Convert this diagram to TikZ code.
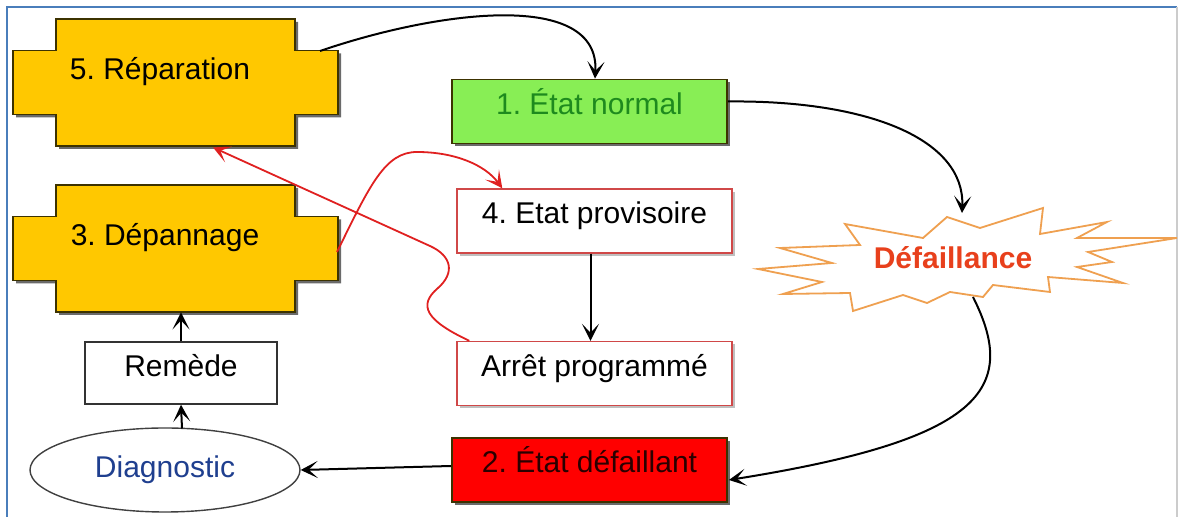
\documentclass[tikz,border=0pt]{standalone}
\usepackage{fontspec}
\setmainfont{Liberation Sans}
\usetikzlibrary{arrows.meta,calc,shapes.geometric,shadows}
\frenchspacing
\definecolor{frameblue}{HTML}{4A7EBB}
\definecolor{gold}{HTML}{FFC800}
\definecolor{golddark}{HTML}{3C3200}
\definecolor{okgreen}{HTML}{88EE55}
\definecolor{okgreentext}{HTML}{1E8A1E}
\definecolor{boxred}{HTML}{FF0000}
\definecolor{redtext}{HTML}{2A0000}
\definecolor{thinred}{HTML}{D04848}
\definecolor{arrowred}{HTML}{E02020}
\definecolor{starorange}{HTML}{EFA050}
\definecolor{startext}{HTML}{E8401C}
\definecolor{diagblue}{HTML}{1F3F8F}
\definecolor{shadowgray}{HTML}{6A6A6A}
\newcommand\mycrosspath{(-119.5,-63.5) -- (119.5,-63.5) -- (119.5,-32) -- (162.5,-32) -- (162.5,32) -- (119.5,32) -- (119.5,63.5) -- (-119.5,63.5) -- (-119.5,32) -- (-162.5,32) -- (-162.5,-32) -- (-119.5,-32) -- cycle}
\newcommand\mycrossshape[2]{%
  \fill[shadowgray,shift={(#1+3,#2+3)}] \mycrosspath;
  \filldraw[fill=gold,draw=golddark,line width=0.9pt,shift={(#1,#2)}] \mycrosspath;}
\begin{document}
\begin{tikzpicture}[x=0.5pt,y=-0.5pt,
  bodybox/.style={draw=none,inner sep=0pt,minimum width=119.5pt,minimum height=63.5pt},
  lbl/.style={font=\fontsize{15}{18}\selectfont,inner sep=0pt},
  upbox/.style={font=\fontsize{15}{18}\selectfont,text height=11pt,text depth=8.2pt,inner sep=0pt},
  statebox/.style={upbox,minimum width=137.5pt,minimum height=32pt},
  greenbox/.style={statebox,fill=okgreen,draw=golddark,line width=0.9pt,text=okgreentext,
     drop shadow={shadow xshift=1.5pt,shadow yshift=-1.5pt,fill=shadowgray,opacity=1}},
  redbox/.style={statebox,fill=boxred,draw=golddark,line width=0.9pt,text=redtext,
     drop shadow={shadow xshift=1.5pt,shadow yshift=-1.5pt,fill=shadowgray,opacity=1}},
  whitebox/.style={statebox,fill=white,draw=thinred,line width=0.7pt,
     drop shadow={shadow xshift=1.5pt,shadow yshift=-1.5pt,fill=black!25,opacity=1}},
  blk/.style={draw=black,line width=1pt,-{Stealth[length=8.5pt,width=8.5pt,inset=4.5pt]}},
  redarr/.style={draw=arrowred,line width=0.9pt,-{Stealth[length=8.5pt,width=8.5pt,inset=4.5pt]}}
]
\useasboundingbox (0,0) rectangle (1180,517);
\fill[white] (0,0) rectangle (1180,517);
% frame
\draw[frameblue,line width=1.4pt] (7,530) -- (7,7) -- (1177,7);
\draw[black!20,line width=0.8pt] (1177,7) -- (1177,530);

% cross shapes
\mycrossshape{175.5}{82.5}
\mycrossshape{175.5}{248.5}
\node[bodybox] (rep) at (175.5,82.5) {};
\node[bodybox] (dep) at (175.5,248.5) {};
\node[lbl] (reptxt) at (160,72) {5. Réparation};
\node[lbl] (deptxt) at (165,238) {3. Dépannage};

% state boxes
\node[greenbox] (n1) at (589.5,111.5) {1. État normal};
\node[whitebox] (n4) at (594.5,221) {4. Etat provisoire};
\node[whitebox] (arret) at (594.5,373.5) {Arrêt programmé};
\node[redbox] (n2) at (589.5,470) {2. État défaillant};
\node[draw=black!80,line width=0.7pt,fill=white,font=\fontsize{15}{18}\selectfont,
      text height=11pt,text depth=7.8pt,inner sep=0pt,
      minimum width=96pt,minimum height=31pt] (remede) at (181,373) {Remède};
\node[ellipse,draw=black!75,line width=0.7pt,fill=white,inner sep=0pt,
      minimum width=135pt,minimum height=42pt,text=diagblue,
      font=\fontsize{15}{18}\selectfont] (diag) at (165,470) {Diagnostic};

% star
\filldraw[fill=white,draw=starorange,line width=0.9pt,line join=miter]
  (947,217) -- (980,228) -- (1043,208) -- (1040,234) -- (1107,222) -- (1077,238)
  -- (1177,238) -- (1088,252) -- (1112,262) -- (1077,267) -- (1123,283)
  -- (1048,277) -- (1050,292) -- (993,285) -- (983,297) -- (950,292)
  -- (927,303) -- (903,295) -- (853,311) -- (850,293) -- (783,294)
  -- (822,282) -- (758,269) -- (832,263) -- (780,248) -- (860,245)
  -- (845,224) -- (923,238) -- cycle;
\node[font=\bfseries\fontsize{15}{18}\selectfont,text=startext,inner sep=0pt] (def) at (953,258) {Défaillance};
\coordinate (defin) at (962,213);
\coordinate (defout) at (973,297);

% helper coordinates on cross shapes
\coordinate (repout) at (320,51);
\coordinate (depout) at (337,252);
\coordinate (diagtop) at (182,428.5);

% black connectors
\draw[blk] (repout) .. controls (440,10) and (600,-10) .. ($(n1.north)+(5.5,0)$);
\draw[blk] ($(n1.east)+(0,-10)$) .. controls (870,100) and (965,140) .. (defin);
\draw[blk] (defout) .. controls (1020,390) and (980,440) .. ($(n2.east)+(1,10)$);
\draw[blk] ($(n2.west)+(0,-4)$) -- (diag.east);
\draw[blk] (diagtop) -- (remede.south);
\draw[blk] (remede.north) -- (remede.north |- dep.south);
\draw[blk] ($(n4.south)+(-4,0)$) -- ($(arret.north)+(-4,0)$);

% red connectors
\draw[redarr] (depout) .. controls (370,185) and (385,152) .. (417,152)
  .. controls (455,152) and (485,165) .. ($(n4.north west)+(46,0)$);
\draw[redarr] ($(arret.north west)+(13,0)$) .. controls (425,320) and (418,305) .. (438,288)
  .. controls (455,273) and (452,256) .. (430,246) -- ($(rep.south)+(37.5,1)$);
\end{tikzpicture}
\end{document}
